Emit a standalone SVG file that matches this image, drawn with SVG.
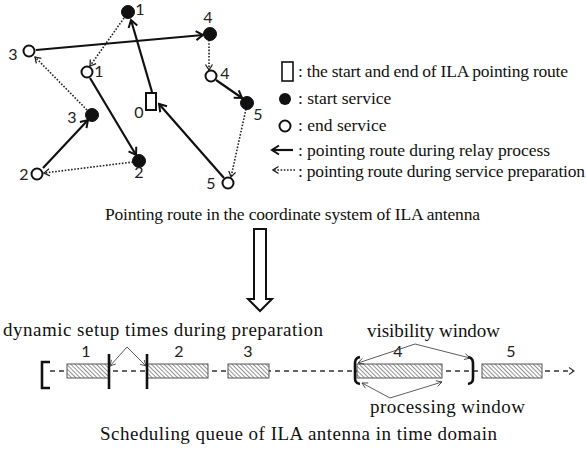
<svg xmlns="http://www.w3.org/2000/svg" width="586" height="452" viewBox="0 0 586 452">
  <style>
    .serif { font-family: "Liberation Serif", "Times New Roman", serif; fill: #111; }
    .num { font-family: Lato, "Open Sans", "Liberation Sans", sans-serif; font-size: 16px; fill: #222; }
    .solid { stroke: #111; stroke-width: 2.2; fill: none; marker-end: url(#headSolid); }
    .dotted { stroke: #222; stroke-width: 1.6; stroke-dasharray: 1.6 1.6; fill: none; marker-end: url(#headDot); }
    .thin { stroke: #333; stroke-width: 0.8; fill: none; marker-end: url(#headThin); }
    .startSvc { fill: #111; stroke: #111; stroke-width: 1; }
    .endSvc { fill: #fff; stroke: #111; stroke-width: 2; }
    .slot { fill: url(#hatch); stroke: #555; stroke-width: 1; }
    .bar { stroke: #111; stroke-width: 2.6; fill: none; }
  </style>
  <defs>
    <marker id="headSolid" viewBox="0 0 12 12" refX="10" refY="6" markerWidth="12" markerHeight="12" markerUnits="userSpaceOnUse" orient="auto">
      <path d="M3,1.5 L10,6 L3,10.5" fill="none" stroke="#111" stroke-width="2"/>
    </marker>
    <marker id="headDot" viewBox="0 0 10 10" refX="8.5" refY="5" markerWidth="10" markerHeight="10" markerUnits="userSpaceOnUse" orient="auto">
      <path d="M3,1.5 L8.5,5 L3,8.5" fill="none" stroke="#222" stroke-width="1.3"/>
    </marker>
    <marker id="headThin" viewBox="0 0 8 8" refX="7" refY="4" markerWidth="8" markerHeight="8" markerUnits="userSpaceOnUse" orient="auto">
      <path d="M1.5,1 L7,4 L1.5,7" fill="none" stroke="#333" stroke-width="0.8"/>
    </marker>
    <pattern id="hatch" patternUnits="userSpaceOnUse" width="3" height="3" patternTransform="rotate(45)">
      <rect width="3" height="3" fill="#fff"/>
      <line x1="0" y1="0" x2="3" y2="0" stroke="#3a3a3a" stroke-width="1.1"/>
    </pattern>
  </defs>

  <!-- pointing route connectors -->
  <g id="connectors">
    <line class="solid" x1="152" y1="92" x2="131" y2="20"/>
    <line class="dotted" x1="124" y1="18" x2="90" y2="66"/>
    <line class="solid" x1="90" y1="78" x2="136" y2="155"/>
    <line class="dotted" x1="133" y1="162" x2="44" y2="173"/>
    <line class="solid" x1="43" y1="168" x2="88" y2="120"/>
    <line class="dotted" x1="87" y1="110" x2="35" y2="57"/>
    <line class="solid" x1="36" y1="50" x2="203" y2="35"/>
    <line class="dotted" x1="209" y1="40" x2="209" y2="70"/>
    <line class="solid" x1="216" y1="80" x2="242" y2="98"/>
    <line class="dotted" x1="246" y1="109" x2="231" y2="177"/>
    <line class="solid" x1="224" y1="178" x2="159" y2="104"/>
  </g>

  <!-- route nodes -->
  <g id="node-0">
    <rect x="146" y="93" width="10" height="17" fill="#fff" stroke="#111" stroke-width="2"/>
    <text class="num" x="139" y="118" text-anchor="middle">0</text>
  </g>
  <g id="node-s1">
    <circle class="startSvc" cx="128" cy="12" r="6.5"/>
    <text class="num" x="140" y="15" text-anchor="middle">1</text>
  </g>
  <g id="node-e1">
    <circle class="endSvc" cx="87" cy="72" r="5.5"/>
    <text class="num" x="99" y="77" text-anchor="middle">1</text>
  </g>
  <g id="node-s2">
    <circle class="startSvc" cx="139" cy="161" r="6.5"/>
    <text class="num" x="139" y="178" text-anchor="middle">2</text>
  </g>
  <g id="node-e2">
    <circle class="endSvc" cx="37" cy="174" r="5.5"/>
    <text class="num" x="24" y="180" text-anchor="middle">2</text>
  </g>
  <g id="node-s3">
    <circle class="startSvc" cx="92" cy="115" r="6.5"/>
    <text class="num" x="72" y="123" text-anchor="middle">3</text>
  </g>
  <g id="node-e3">
    <circle class="endSvc" cx="29" cy="51" r="5.5"/>
    <text class="num" x="13" y="60" text-anchor="middle">3</text>
  </g>
  <g id="node-s4">
    <circle class="startSvc" cx="210" cy="34" r="6.5"/>
    <text class="num" x="208" y="23" text-anchor="middle">4</text>
  </g>
  <g id="node-e4">
    <circle class="endSvc" cx="211" cy="76" r="5.5"/>
    <text class="num" x="225" y="79" text-anchor="middle">4</text>
  </g>
  <g id="node-s5">
    <circle class="startSvc" cx="247" cy="103" r="6.5"/>
    <text class="num" x="258" y="120" text-anchor="middle">5</text>
  </g>
  <g id="node-e5">
    <circle class="endSvc" cx="228" cy="183" r="5.5"/>
    <text class="num" x="211" y="189" text-anchor="middle">5</text>
  </g>

  <!-- legend -->
  <g id="legend">
    <rect x="282" y="62" width="11" height="19" fill="#fff" stroke="#111" stroke-width="1.6"/>
    <text class="serif" x="298" y="77" font-size="17.5" textLength="270" lengthAdjust="spacing">: the start and end of ILA pointing route</text>
    <circle cx="285" cy="99" r="6" fill="#111"/>
    <text class="serif" x="298" y="104" font-size="17.5">: start service</text>
    <circle cx="285" cy="126" r="5.5" fill="#fff" stroke="#111" stroke-width="2"/>
    <text class="serif" x="298" y="131" font-size="17.5">: end service</text>
    <line class="solid" x1="293" y1="150" x2="272" y2="150"/>
    <text class="serif" x="298" y="156" font-size="17.5" textLength="252" lengthAdjust="spacing">: pointing route during relay process</text>
    <line class="dotted" x1="295" y1="170" x2="273" y2="170"/>
    <text class="serif" x="298" y="177" font-size="17.5" textLength="287" lengthAdjust="spacing">: pointing route during service preparation</text>
  </g>

  <text class="serif" x="105" y="220" font-size="17.5" textLength="375" lengthAdjust="spacing">Pointing route in the coordinate system of ILA antenna</text>

  <!-- transformation arrow -->
  <g id="transform-arrow">
    <polygon points="254,229 266,229 266,299 272,299 260,311 248,299 254,299" fill="#fff" stroke="#111" stroke-width="2"/>
  </g>

  <!-- time-domain scheduling queue -->
  <g id="timeline">
    <line x1="50" y1="371" x2="573" y2="371" stroke="#333" stroke-width="1.3" stroke-dasharray="5 4"/>
    <path d="M569,367.5 L574,371 L569,374.5" fill="none" stroke="#333" stroke-width="1.1"/>
    <path class="bar" d="M50,362 H42 V388 H50" stroke-width="3"/>
  </g>
  <g id="slot-1">
    <rect class="slot" x="67" y="364" width="42" height="14"/>
    <text class="num" x="86" y="357" text-anchor="middle">1</text>
  </g>
  <g id="slot-2">
    <rect class="slot" x="147" y="364" width="61" height="14"/>
    <text class="num" x="179" y="357" text-anchor="middle">2</text>
  </g>
  <g id="slot-3">
    <rect class="slot" x="228" y="364" width="41" height="14"/>
    <text class="num" x="248" y="357" text-anchor="middle">3</text>
  </g>
  <g id="slot-4">
    <rect class="slot" x="357" y="364" width="85" height="14"/>
    <text class="num" x="398" y="357" text-anchor="middle">4</text>
  </g>
  <g id="slot-5">
    <rect class="slot" x="482" y="364" width="60" height="14"/>
    <text class="num" x="511" y="357" text-anchor="middle">5</text>
  </g>
  <g id="setup-marks">
    <line class="bar" x1="109" y1="354" x2="109" y2="389"/>
    <line class="bar" x1="147" y1="354" x2="147" y2="389"/>
  </g>
  <g id="visibility-brackets">
    <path class="bar" d="M360,357 C354.5,358 355,362 355,366 L355,376 C355,380 354.5,383 360,384"/>
    <path class="bar" d="M468,357 C473.5,358 473,362 473,366 L473,376 C473,380 473.5,383 468,384"/>
  </g>

  <!-- annotation pointers -->
  <g id="annotations">
    <line class="thin" x1="127" y1="347" x2="110" y2="366"/>
    <line class="thin" x1="127" y1="347" x2="146" y2="366"/>
    <line class="thin" x1="415" y1="344" x2="358" y2="363"/>
    <line class="thin" x1="415" y1="344" x2="470" y2="358"/>
    <line class="thin" x1="390" y1="398" x2="362" y2="383"/>
    <line class="thin" x1="390" y1="398" x2="442" y2="382"/>
  </g>

  <text class="serif" x="3" y="336" font-size="19" textLength="320" lengthAdjust="spacing">dynamic setup times during preparation</text>
  <text class="serif" x="367" y="337" font-size="19" textLength="133" lengthAdjust="spacing">visibility window</text>
  <text class="serif" x="370" y="413" font-size="19" textLength="155" lengthAdjust="spacing">processing window</text>
  <text class="serif" x="100" y="440" font-size="19" textLength="397" lengthAdjust="spacing">Scheduling queue of ILA antenna in time domain</text>
</svg>
